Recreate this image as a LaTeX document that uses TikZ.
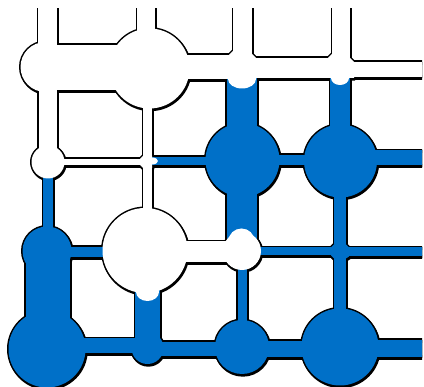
\documentclass[tikz,border=0pt]{standalone}
\definecolor{poreblue}{RGB}{0,112,200}
\tikzset{
  outl/.style={draw=black, fill=black, line width=3pt, line join=round},
  bluefill/.style={fill=poreblue},
  whitefill/.style={fill=white},
  cur/.style={},
}
\newcommand\Pc[3]{\path[cur] (#1,#2) circle (#3);}
\newcommand\Tr[4]{\path[cur] (#1,#2) rectangle (#3,#4);}
% blue (filled) pores and throats
\newcommand\bluepart{%
 \Pc{47}{251}{24.5}
 \Pc{47}{349}{38.5}
 \Pc{147.5}{348}{16}
 \Pc{242}{347}{27}
 \Pc{340}{347}{38.5}
 \Pc{242.5}{160}{37}
 \Pc{340.5}{161}{36.5}
 \Tr{43}{162}{53}{251}
 \Tr{25.5}{251}{69.5}{349}
 \Tr{47}{247}{145}{257}
 \Tr{135}{250}{160}{348}
 \Tr{47}{338.5}{147.5}{353.5}
 \Tr{147.5}{342}{242}{356}
 \Tr{242}{341}{340}{357}
 \Tr{340}{340}{440}{357}
 \Tr{237.5}{250}{246.5}{347}
 \Tr{242}{247.5}{340}{255.5}
 \Tr{340}{247.5}{440}{256.5}
 \Tr{334}{161}{346}{347}
 \Tr{242}{155}{340}{165}
 \Tr{340}{150.5}{440}{165.5}
 \Tr{147.5}{157}{242}{165}
 \Tr{226.5}{67}{256.5}{160}
 \Tr{330}{68}{350}{161}
 \Tr{226.5}{160}{256.5}{250}
 \path[cur] (334,244.5) -- (331,247.5) -- (331,255.5) -- (334,258.5) -- (346,258.5)
   -- (349,256.5) -- (349,247.5) -- (346,244.5) -- cycle;
}
% white (empty) pores and throats
\newcommand\whitepart{%
 \Pc{45.5}{67}{25}
 \Pc{149.5}{68.5}{40}
 \Pc{48}{162}{16.5}
 \Pc{145}{250.5}{42.5}
 \Pc{242}{251}{19}
 \Tr{38}{-10}{57}{67}
 \Tr{137}{-10}{155}{68}
 \Tr{233}{-10}{252}{67}
 \Tr{332}{-10}{350}{68}
 \Tr{45}{45}{149.5}{90}
 \Tr{149.5}{55}{242}{79}
 \Tr{242}{58}{341}{78}
 \Tr{341}{62}{440}{77}
 \Tr{38.5}{67}{57}{162}
 \Tr{143}{68}{152}{250}
 \Tr{48}{159}{147.5}{165}
 \Tr{145}{241.5}{242}{262.5}
 \path[cur] (233,51) -- (229,55) -- (229,79) -- (256,79) -- (256,58) -- (252,54) -- cycle;
 \path[cur] (332,54) -- (328,58) -- (328,78) -- (354,78) -- (354,62) -- (350,58) -- cycle;
 \path[cur] (143,156) -- (140,159) -- (140,165) -- (143,168) -- (152,168) -- (152,156) -- cycle;
}
\begin{document}
\begin{tikzpicture}[x=1pt,y=-1pt]
  \useasboundingbox (0,0) rectangle (424,387);
  \begin{scope}
    \clip (0,9) rectangle (422,387);
    % shadow and outlines
    \tikzset{cur/.style={outl}}
    \begin{scope}[shift={(0.8,1.2)}]
      \bluepart \whitepart
    \end{scope}
    \bluepart \whitepart
    % fills
    \tikzset{cur/.style={bluefill}}
    \bluepart
    \tikzset{cur/.style={whitefill}}
    \whitepart
    % menisci
    \fill[white] (242,79) ellipse (14 and 9.5)
                 (340,78) ellipse (9 and 7)
                 (152,161) ellipse (6 and 3.5)
                 (147.5,292) ellipse (11.5 and 9)
                 (241.5,241) ellipse (13 and 12.5);
  \end{scope}
\end{tikzpicture}
\end{document}
